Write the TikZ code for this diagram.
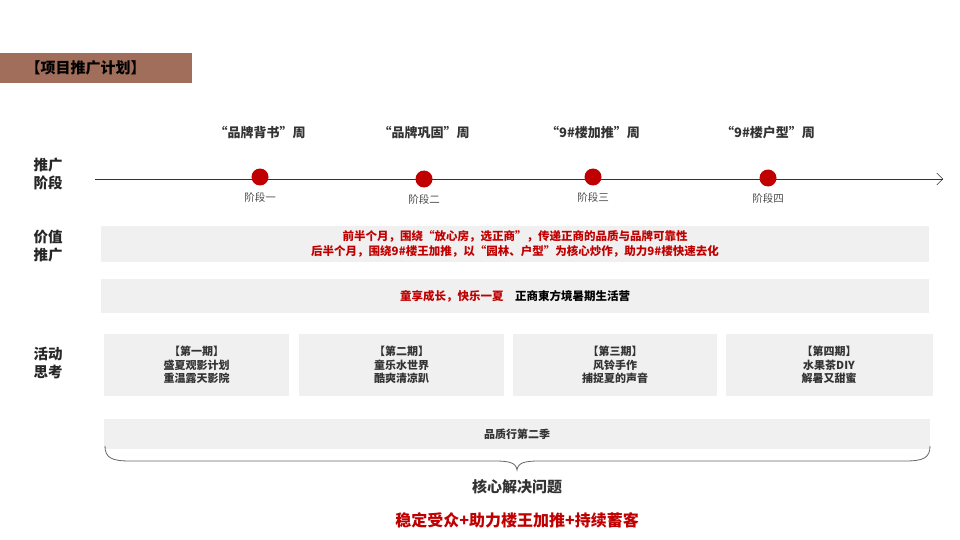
\documentclass[tikz,border=0pt]{standalone}
\usepackage{fontspec}
\setmainfont{Noto Sans CJK SC}
\usetikzlibrary{arrows.meta,positioning}
\definecolor{hdr}{HTML}{A06E5A}
\definecolor{box}{HTML}{F0F0F0}
\definecolor{dred}{HTML}{C00000}
\tikzset{x=1pt,y=-1pt,
 lbl/.style={font=\bfseries\fontsize{14.5}{18}\selectfont,text=black!85,align=left,anchor=west},
 wk/.style={font=\bfseries\fontsize{13}{15}\selectfont,text=black!80},
 dot/.style={circle,fill=dred,minimum size=17pt,inner sep=0pt},
 stg/.style={font=\fontsize{10.5}{12}\selectfont,text=black!70},
 gbox/.style={fill=box,draw=none,inner sep=0pt},
 act/.style={font=\bfseries\fontsize{11}{13.5}\selectfont,text=black!80,align=center}}
\begin{document}
\begin{tikzpicture}
\useasboundingbox (0,0) rectangle (960,540);
\node[fill=hdr,minimum width=192pt,minimum height=30pt,inner sep=0pt,anchor=north west] (hdr) at (0,53) {};
\node[font=\bfseries\fontsize{15}{17}\selectfont,anchor=west] (ht) at (22,68) {【项目推广计划】};
\node[lbl] (l1) at (30,174) {推广\\阶段};
\node[lbl] (l2) at (30,246) {价值\\推广};
\node[lbl] (l3) at (30,363) {活动\\思考};
\coordinate (a0) at (95,179); \coordinate (a1) at (943,179);
\draw[-{Straight Barb[length=6pt]},black!80] (a0) -- (a1);
\foreach \x/\y/\w/\s/\i in {260/177/“品牌背书”周/阶段一/1,424/179/“品牌巩固”周/阶段二/2,593/177/“9\#楼加推”周/阶段三/3,768/178/“9\#楼户型”周/阶段四/4}{
 \node[dot] (d\i) at (\x,\y) {};
 \node[wk] (w\i) at (\x,133) {\w};
 \node[stg,below=3pt of d\i] (s\i) {\s};
}
\node[gbox,minimum width=828pt,minimum height=36pt] (v1) at (515,244) {};
\node[font=\bfseries\fontsize{11.5}{15}\selectfont,text=dred,align=center] (v1t) at (515,244) {前半个月，围绕“放心房，选正商”，传递正商的品质与品牌可靠性\\后半个月，围绕9\#楼王加推，以“园林、户型”为核心炒作，助力9\#楼快速去化};
\node[gbox,minimum width=828pt,minimum height=34pt] (v2) at (515,296) {};
\node[font=\bfseries\fontsize{11.5}{14}\selectfont] (v2t) at (515,296) {\textcolor{dred}{童享成长，快乐一夏}\quad 正商東方境暑期生活营};
\foreach \x/\w/\t/\i in {196.5/185/【第一期】\\盛夏观影计划\\重温露天影院/1, 401.5/205/【第二期】\\童乐水世界\\酷爽清凉趴/2, 615/204/【第三期】\\风铃手作\\捕捉夏的声音/3, 829/207/【第四期】\\水果茶DIY\\解暑又甜蜜/4}{
 \node[gbox,minimum width=\w pt,minimum height=62pt] (b\i) at (\x,365) {};
 \node[act] (bt\i) at (\x,365) {\t};
}
\node[gbox,minimum width=826pt,minimum height=30pt] (q) at (517,434) {};
\node[act] (qt) at (517,434) {品质行第二季};
\coordinate (bl) at (105,446); \coordinate (br) at (930,446); \coordinate (bt) at (517,470);
\draw[black!60,line width=0.8pt] (bl) .. controls (105,458) and (112,461) .. (130,461) -- (495,461) .. controls (510,461) and (516,463) .. (bt)
  .. controls (518,463) and (524,461) .. (539,461) -- (905,461) .. controls (923,461) and (930,458) .. (br);
\node[font=\bfseries\fontsize{15}{18}\selectfont,text=black!80] (core) at (517,487) {核心解决问题};
\node[font=\bfseries\fontsize{16}{19}\selectfont,text=dred] (goal) at (517,520) {稳定受众+助力楼王加推+持续蓄客};
\end{tikzpicture}
\end{document}
